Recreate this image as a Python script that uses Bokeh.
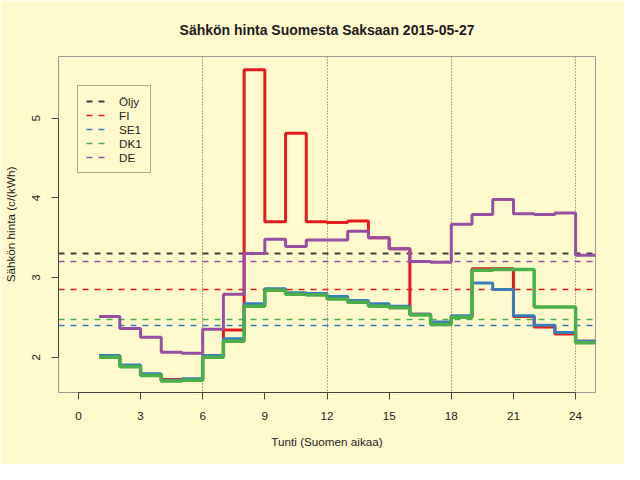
from bokeh.plotting import figure
from bokeh.models import Range1d, Legend, LegendItem
from bokeh.embed import file_html
from bokeh.resources import INLINE

# ---- data ----
hours = list(range(1, 25))
fi = [2.01, 1.89, 1.77, 1.72, 1.72, 2.01, 2.34, 5.61, 3.70, 4.81, 3.70, 3.69,
      3.71, 3.50, 3.36, 2.54, 2.43, 2.51, 3.11, 3.11, 2.51, 2.38, 2.29, 2.20]
se1 = [2.02, 1.90, 1.79, 1.71, 1.73, 2.02, 2.23, 2.67, 2.86, 2.81, 2.80, 2.76,
       2.71, 2.67, 2.64, 2.54, 2.44, 2.52, 2.93, 2.85, 2.52, 2.40, 2.31, 2.20]
dk1 = [2.00, 1.88, 1.77, 1.70, 1.71, 2.00, 2.20, 2.64, 2.84, 2.79, 2.78, 2.73,
       2.69, 2.64, 2.62, 2.53, 2.41, 2.50, 3.09, 3.10, 3.10, 2.63, 2.63, 2.18]
de = [2.51, 2.36, 2.25, 2.06, 2.05, 2.35, 2.79, 3.30, 3.48, 3.39, 3.47, 3.47,
      3.58, 3.50, 3.36, 3.20, 3.19, 3.67, 3.79, 3.98, 3.80, 3.79, 3.81, 3.28]

ref_names = ["Öljy", "FI", "SE1", "DK1", "DE"]
ref_levels = [3.30, 2.85, 2.40, 2.47, 3.20]

x_ticks = [0, 3, 6, 9, 12, 15, 18, 21, 24]
y_ticks = [2, 3, 4, 5]
v_lines = [6, 12, 18, 24]

title = "Sähkön hinta Suomesta Saksaan 2015-05-27"
x_label = "Tunti (Suomen aikaa)"
y_label = "Sähkön hinta (c/(kWh)"

# ---- styles ----
FONT = "Liberation Sans"
BG = "#FFFACD"
TXT = "#1e1a1e"
FS = "11.7px"
ref_colors = ["#404040", "#E41A1C", "#377EB8", "#4DAF4A", "#984EA3"]
ref_widths = [2, 1.6, 1.6, 1.6, 1.6]

p = figure(width=624, height=464, output_backend="svg", toolbar_location=None,
           x_range=Range1d(-0.96, 24.96), y_range=Range1d(1.556, 5.775),
           min_border_left=58, min_border_right=29, min_border_top=56,
           min_border_bottom=72, background_fill_color=BG, border_fill_color=BG)

p.title.text = title
p.title.text_font = FONT
p.title.text_font_size = "14px"
p.title.text_font_style = "bold"
p.title.text_color = TXT
p.title.align = "center"
p.title.standoff = 38

p.xgrid.visible = False
p.ygrid.visible = False
p.outline_line_color = "#9a9a9a"

# vertical dotted guides
p.vspan(x=v_lines, line_color="#5a5a5a", line_width=1, line_dash="1 2")

# horizontal reference (mean) lines
ref_renderers = []
for lvl, col, w in zip(ref_levels, ref_colors, ref_widths):
    r = p.hspan(y=[lvl], line_color=col, line_width=w, line_dash="6 6")
    ref_renderers.append(r)

# step series (value held over each hour)
xs = hours + [hours[-1] + 1]
series = [(fi, ref_colors[1], 3), (se1, ref_colors[2], 3),
          (dk1, ref_colors[3], 3.5), (de, ref_colors[4], 3)]
for vals, col, w in series:
    p.step(xs, vals + [vals[-1]], mode="after", line_color=col, line_width=w)

# axes
for ax in (p.xaxis[0], p.yaxis[0]):
    ax.axis_line_color = "#444444"
    ax.major_tick_line_color = "#444444"
    ax.minor_tick_line_color = None
    ax.major_tick_out = 7
    ax.major_tick_in = 0
    ax.major_label_text_font = FONT
    ax.major_label_text_font_size = FS
    ax.major_label_text_color = TXT
    ax.axis_label_text_font = FONT
    ax.axis_label_text_font_size = FS
    ax.axis_label_text_font_style = "normal"
    ax.axis_label_text_color = TXT

p.xaxis.ticker = x_ticks
p.xaxis.bounds = (0, 24)
p.xaxis.major_label_standoff = 12
p.xaxis.axis_label = x_label
p.xaxis.axis_label_standoff = 12

p.yaxis.ticker = y_ticks
p.yaxis.bounds = (2, 5)
p.yaxis.major_label_orientation = "vertical"
p.yaxis.major_label_standoff = 11
p.yaxis.axis_label = y_label
p.yaxis.axis_label_standoff = 13

legend = Legend(items=[LegendItem(label=n, renderers=[r])
                       for n, r in zip(ref_names, ref_renderers)],
                location=(19, 219))
legend.border_line_color = "#555555"
legend.border_line_width = 1
legend.background_fill_color = BG
legend.background_fill_alpha = 1
legend.label_text_font = FONT
legend.label_text_font_size = FS
legend.label_text_color = TXT
legend.glyph_width = 20
legend.glyph_height = 14
legend.label_height = 14
legend.spacing = 0
legend.padding = 8
legend.margin = 0
legend.label_standoff = 13
p.add_layout(legend)

open("out.html", "w").write(file_html(p, INLINE))
